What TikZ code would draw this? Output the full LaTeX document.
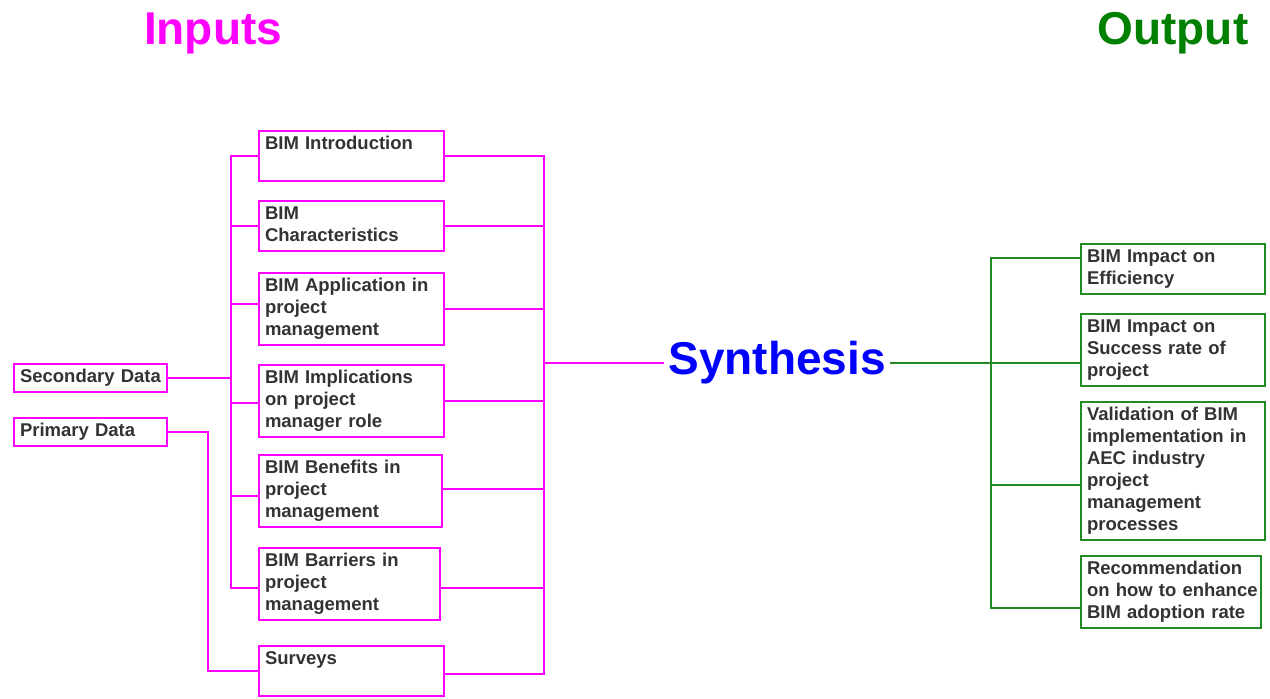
\documentclass[tikz,border=0pt]{standalone}
\usepackage{fontspec}
\setmainfont{Liberation Sans}
\usepackage{tikz}
\definecolor{mag}{RGB}{255,0,255}
\definecolor{grn}{RGB}{34,139,34}
\definecolor{outgreen}{RGB}{0,128,0}
\definecolor{txt}{RGB}{51,51,51}

\begin{document}
\begin{tikzpicture}[x=0.5pt,y=-0.5pt,
	box/.style={draw, line width=1pt, anchor=north west, align=left, text=txt,
		inner xsep=3pt, inner ysep=1.5pt, font=\fontsize{9.25}{11}\selectfont\bfseries,
		execute at begin node={\hyphenpenalty=10000\strut}, execute at end node=\strut},
	inbox/.style={box, draw=mag, text width=86.5pt},
	outbox/.style={box, draw=grn, text width=86pt},
	inlink/.style={draw=mag, line width=0.75pt},
	outlink/.style={draw=grn, line width=0.75pt},
	heading/.style={font=\fontsize{23}{27}\selectfont\bfseries, inner sep=2pt}]
	
	\useasboundingbox (0,0) rectangle (1270,698);
	
	% titles
	\node[heading, text=mag, anchor=base] (inputs) at (213,44) {Inputs};
	\node[heading, text=outgreen, anchor=base] (output) at (1173,44) {Output};
	\node[heading, text=blue] (syn) at (777,363) {Synthesis};
	
	% input boxes
	\node[inbox] (intro) at (258,130) {BIM Introduction\\~};
	\node[inbox] (char) at (258,200) {BIM\\Characteristics};
	\node[inbox] (app) at (258,272) {BIM Application in\\project\\management};
	\node[inbox] (impl) at (258,364) {BIM Implications\\on project\\manager role};
	\node[inbox, text width=85.5pt] (ben) at (258,454) {BIM Benefits in\\project\\management};
	\node[inbox, text width=84.5pt] (barr) at (258,547) {BIM Barriers in\\project\\management};
	\node[inbox] (surv) at (258,645) {Surveys\\~};
	\node[inbox, text width=70.5pt] (sec) at (13,363) {Secondary Data};
	\node[inbox, text width=70.5pt] (prim) at (13,417) {Primary Data};
	
	% output boxes
	\node[outbox] (eff) at (1080,243) {BIM Impact on\\Efficiency};
	\node[outbox] (succ) at (1080,313) {BIM Impact on\\Success rate of\\project};
	\node[outbox] (valid) at (1080,401) {Validation of BIM\\implementation in\\AEC industry\\project\\management\\processes};
	\node[outbox, text width=84pt] (recom) at (1080,555) {Recommendation\\\mbox{on how to enhance}\\BIM adoption rate};
	
	\coordinate (lbus) at (231,0);
	\coordinate (pbus) at (208,0);
	\coordinate (rbus) at (544,0);
	\coordinate (gbus) at (991,0);
	
	% left tree
	\draw[inlink] (intro.west) -- (intro.west -| lbus) -- ([yshift=-2pt]barr.west -| lbus) -- ([yshift=-2pt]barr.west);
	\foreach \n/\s in {char/0pt,app/2.5pt,impl/-1pt,ben/-2.5pt}
	{
		\draw[inlink] ([yshift=\s]\n.west) -- ([yshift=\s]\n.west -| lbus);
	}
	\draw[inlink] (sec.east) -- (sec.east -| lbus);
	\draw[inlink] (prim.east) -- (prim.east -| pbus) |- (surv.west);
	
	% right tree
	\draw[inlink] (intro.east) -- (intro.east -| rbus) -- ([yshift=-1.5pt]surv.east -| rbus) -- ([yshift=-1.5pt]surv.east);
	\foreach \n/\s in {char/0pt,app/0pt,impl/0pt,ben/1pt,barr/-2pt}
	{
		\draw[inlink] ([yshift=\s]\n.east) -- ([yshift=\s]\n.east -| rbus);
	}
	\draw[inlink] (syn.west -| rbus) -- (syn.west);
	
	% output tree
	\draw[outlink] (syn.east) -- (syn.east -| succ.west);
	\draw[outlink] ([yshift=5.5pt]eff.west) -- ([yshift=5.5pt]eff.west -| gbus) -- ([yshift=-8pt]recom.west -| gbus) -- ([yshift=-8pt]recom.west);
	\draw[outlink] ([yshift=-7pt]valid.west) -- ([yshift=-7pt]valid.west -| gbus);

\end{tikzpicture}
\end{document}
